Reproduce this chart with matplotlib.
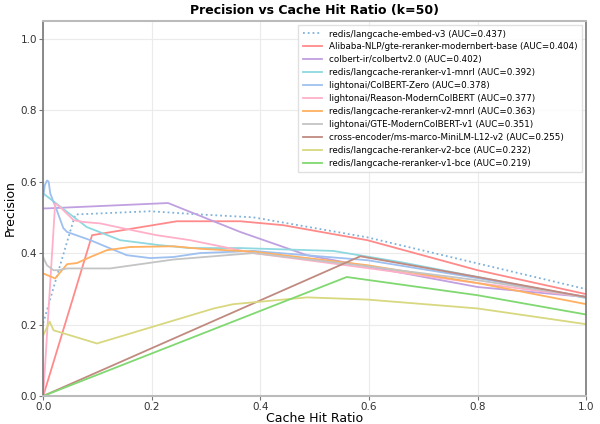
import matplotlib
matplotlib.use("Agg")
import matplotlib.pyplot as plt

# model names and AUC values
models = [
    "redis/langcache-embed-v3",
    "Alibaba-NLP/gte-reranker-modernbert-base",
    "colbert-ir/colbertv2.0",
    "redis/langcache-reranker-v1-mnrl",
    "lightonai/ColBERT-Zero",
    "lightonai/Reason-ModernColBERT",
    "redis/langcache-reranker-v2-mnrl",
    "lightonai/GTE-ModernColBERT-v1",
    "cross-encoder/ms-marco-MiniLM-L12-v2",
    "redis/langcache-reranker-v2-bce",
    "redis/langcache-reranker-v1-bce",
]
aucs = [0.437, 0.404, 0.402, 0.392, 0.378, 0.377, 0.363, 0.351, 0.255, 0.232, 0.219]

# curves: (cache hit ratio, precision)
embed_v3_x = [0.0, 0.03, 0.059, 0.197, 0.289, 0.387, 0.597, 0.8, 1.0]
embed_v3_y = [0.204, 0.36, 0.508, 0.517, 0.508, 0.5, 0.444, 0.371, 0.299]

gte_rerank_x = [0.0, 0.09, 0.246, 0.363, 0.442, 0.597, 0.8, 1.0]
gte_rerank_y = [0.0, 0.45, 0.489, 0.489, 0.478, 0.436, 0.352, 0.285]

colbertv2_x = [0.0, 0.007, 0.23, 0.363, 0.486, 0.8, 1.0]
colbertv2_y = [0.525, 0.525, 0.54, 0.459, 0.394, 0.305, 0.277]

v1_mnrl_x = [0.0, 0.08, 0.142, 0.215, 0.27, 0.363, 0.534, 0.657, 0.8, 1.0]
v1_mnrl_y = [0.567, 0.473, 0.436, 0.422, 0.414, 0.414, 0.406, 0.375, 0.333, 0.274]

colbert_zero_x = [0.0, 0.003, 0.007, 0.01, 0.013, 0.019, 0.025, 0.031, 0.037, 0.044,
                  0.087, 0.117, 0.154, 0.197, 0.24, 0.289, 0.387, 0.597, 0.8, 1.0]
colbert_zero_y = [0.557, 0.59, 0.603, 0.6, 0.567, 0.543, 0.52, 0.495, 0.47, 0.459,
                  0.436, 0.417, 0.394, 0.386, 0.389, 0.4, 0.406, 0.38, 0.33, 0.277]

reason_x = [0.0, 0.022, 0.031, 0.056, 0.074, 0.105, 0.148, 0.209, 0.271, 0.387, 0.597, 0.8, 1.0]
reason_y = [0.0, 0.539, 0.529, 0.492, 0.487, 0.483, 0.469, 0.45, 0.436, 0.4, 0.358, 0.316, 0.277]

v2_mnrl_x = [0.0, 0.022, 0.044, 0.062, 0.087, 0.117, 0.16, 0.24, 0.289, 0.387, 0.597, 0.8, 1.0]
v2_mnrl_y = [0.343, 0.329, 0.369, 0.372, 0.389, 0.408, 0.417, 0.419, 0.412, 0.404, 0.366, 0.316, 0.257]

gte_colbert_x = [0.0, 0.004, 0.007, 0.012, 0.019, 0.028, 0.044, 0.123, 0.24, 0.387, 0.597, 0.8, 1.0]
gte_colbert_y = [0.389, 0.375, 0.366, 0.36, 0.352, 0.352, 0.357, 0.357, 0.382, 0.4, 0.363, 0.324, 0.277]

minilm_x = [0.0, 0.584, 0.8, 1.0]
minilm_y = [0.0, 0.391, 0.333, 0.277]

v2_bce_x = [0.0, 0.012, 0.019, 0.099, 0.314, 0.35, 0.486, 0.596, 0.8, 1.0]
v2_bce_y = [0.17, 0.208, 0.184, 0.147, 0.245, 0.257, 0.276, 0.27, 0.245, 0.201]

v1_bce_x = [0.0, 0.559, 0.8, 1.0]
v1_bce_y = [0.0, 0.333, 0.282, 0.228]

curves = [
    (embed_v3_x, embed_v3_y), (gte_rerank_x, gte_rerank_y), (colbertv2_x, colbertv2_y),
    (v1_mnrl_x, v1_mnrl_y), (colbert_zero_x, colbert_zero_y), (reason_x, reason_y),
    (v2_mnrl_x, v2_mnrl_y), (gte_colbert_x, gte_colbert_y), (minilm_x, minilm_y),
    (v2_bce_x, v2_bce_y), (v1_bce_x, v1_bce_y),
]
colors = ['#7fb2d9', '#ff8a8a', '#c0a0e0', '#8ed8e0', '#9ec0f0', '#ffb0c8',
          '#ffb060', '#c4c4c4', '#c08a80', '#d8d880', '#80d870']

fig, ax = plt.subplots(figsize=(6, 4.24), dpi=100)
fig.subplots_adjust(left=0.072, right=0.977, bottom=0.066, top=0.951)

for i, ((xs, ys), name, auc) in enumerate(zip(curves, models, aucs)):
    ls = ':' if i == 0 else '-'
    ax.plot(xs, ys, ls, color=colors[i], lw=1.3,
            label="{0} (AUC={1:.3f})".format(name, auc))

ax.set_xlim(0, 1)
ax.set_ylim(0, 1.05)
ax.set_xticks([0, 0.2, 0.4, 0.6, 0.8, 1.0])
ax.set_yticks([0, 0.2, 0.4, 0.6, 0.8, 1.0])
ax.grid(True, color='#ebebeb', lw=0.8)
ax.tick_params(labelsize=7.5, colors='#777777', labelcolor='#333333', length=3, pad=1.5)

for side in ['left', 'right']:
    ax.spines[side].set_color('#777777')
    ax.spines[side].set_linewidth(1.2)
for side in ['top', 'bottom']:
    ax.spines[side].set_color('#bbbbbb')
    ax.spines[side].set_linewidth(1.5)

ax.set_title("Precision vs Cache Hit Ratio (k=50)", fontsize=9, fontweight='bold', pad=5)
ax.set_xlabel("Cache Hit Ratio", fontsize=9, labelpad=0)
ax.set_ylabel("Precision", fontsize=9, labelpad=3)

ax.legend(loc='upper right', fontsize=6.3, frameon=True, framealpha=0.9,
          edgecolor='#dddddd', fancybox=False, handlelength=2.2,
          labelspacing=0.45, borderpad=0.5, borderaxespad=0.5)

fig.savefig("out.png", dpi=100)
